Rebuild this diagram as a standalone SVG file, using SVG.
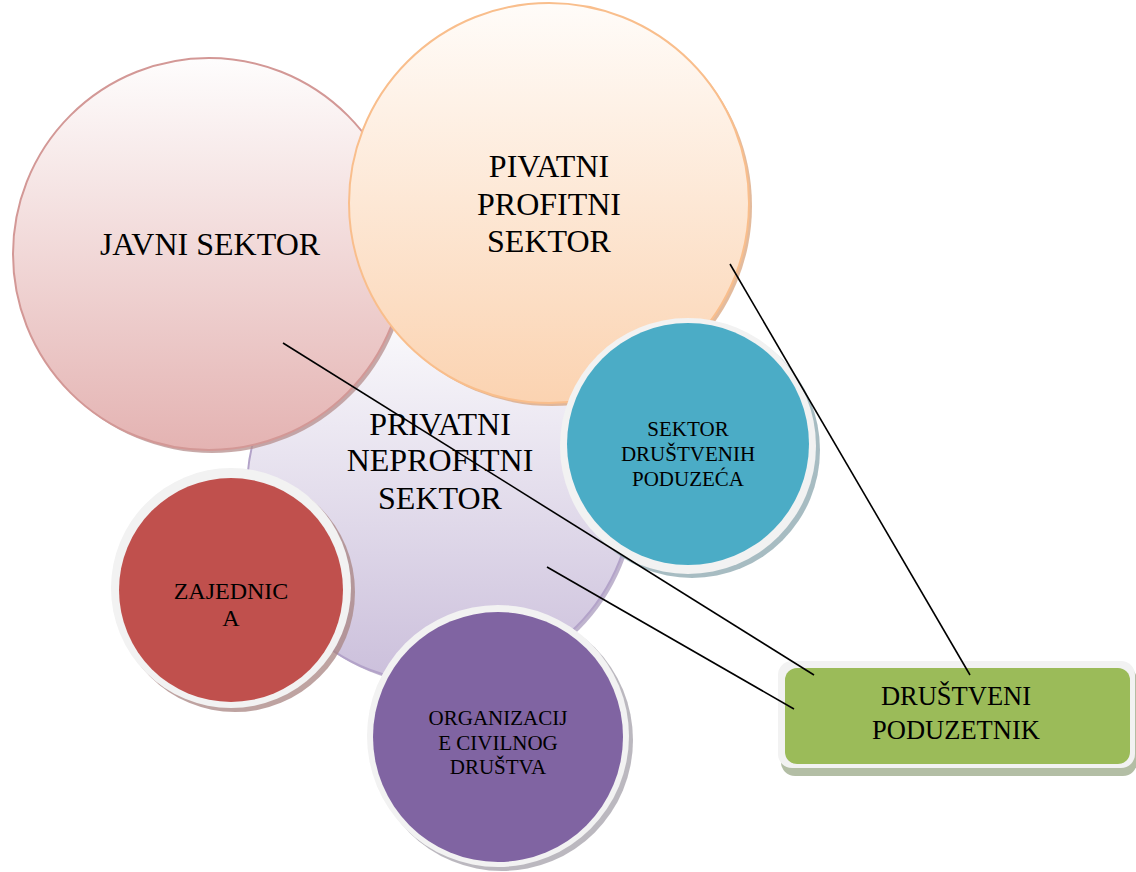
<svg xmlns="http://www.w3.org/2000/svg" width="1136" height="872" viewBox="0 0 1136 872">
  <defs>
    <linearGradient id="gPink" x1="0" y1="0" x2="0" y2="1">
      <stop offset="0" stop-color="#fefdfd"/>
      <stop offset="1" stop-color="#e4b3b2"/>
    </linearGradient>
    <linearGradient id="gOrange" x1="0" y1="0" x2="0" y2="1">
      <stop offset="0" stop-color="#fffcf9"/>
      <stop offset="1" stop-color="#fbd3b1"/>
    </linearGradient>
    <linearGradient id="gLilac" x1="0" y1="0" x2="0" y2="1">
      <stop offset="0" stop-color="#fdfdfe"/>
      <stop offset="1" stop-color="#cbbfdb"/>
    </linearGradient>
  </defs>
  <style>
    text { font-family: "Liberation Serif", "Times New Roman", serif; fill: #000; text-anchor: middle; }
    .big { font-size: 32px; }
    .mid { font-size: 21px; }
    .zaj { font-size: 24px; }
    .box { font-size: 26.5px; }
    .ring { fill: #f2f2f2; }
    .shadow { opacity: 0.75; }
    .conn { stroke: #000; stroke-width: 1.6; fill: none; }
  </style>

  <g id="privatni-neprofitni">
    <circle cx="443" cy="493" r="193" fill="#a99bbd" class="shadow"/>
    <circle cx="440" cy="490" r="193" fill="url(#gLilac)" stroke="#b3a3c9" stroke-width="2"/>
    <text class="big" x="440" y="435">PRIVATNI</text>
    <text class="big" x="440" y="471">NEPROFITNI</text>
    <text class="big" x="440" y="509">SEKTOR</text>
  </g>

  <g id="javni-sektor">
    <circle cx="212" cy="257" r="196" fill="#b58d8c" class="shadow"/>
    <circle cx="209" cy="254" r="196" fill="url(#gPink)" stroke="#d39896" stroke-width="2"/>
    <text class="big" x="210" y="255">JAVNI SEKTOR</text>
  </g>

  <g id="pivatni-profitni">
    <circle cx="552" cy="206" r="200" fill="#d9a47c" class="shadow"/>
    <circle cx="549" cy="203" r="200" fill="url(#gOrange)" stroke="#f9be8c" stroke-width="2"/>
    <text class="big" x="549" y="177">PIVATNI</text>
    <text class="big" x="549" y="215">PROFITNI</text>
    <text class="big" x="549" y="252">SEKTOR</text>
  </g>

  <g id="sektor-drustvenih-poduzeca">
    <circle cx="692" cy="450" r="128" fill="#8aa5ad" class="shadow"/>
    <circle cx="688" cy="446" r="128" class="ring"/>
    <circle cx="688" cy="444" r="121" fill="#4bacc6"/>
    <text class="mid" x="688" y="436">SEKTOR</text>
    <text class="mid" x="688" y="461">DRUŠTVENIH</text>
    <text class="mid" x="688" y="486">PODUZEĆA</text>
  </g>

  <g id="zajednica">
    <circle cx="235" cy="592" r="120" fill="#a88482" class="shadow"/>
    <circle cx="231" cy="588" r="120" class="ring"/>
    <circle cx="231" cy="590" r="112" fill="#c0504d"/>
    <text class="zaj" x="231" y="599">ZAJEDNIC</text>
    <text class="zaj" x="231" y="626">A</text>
  </g>

  <g id="organizacije-civilnog-drustva">
    <circle cx="502" cy="740" r="131" fill="#a4a0aa" class="shadow"/>
    <circle cx="498" cy="736" r="131" class="ring"/>
    <circle cx="498" cy="737" r="125" fill="#8064a2"/>
    <text class="mid" x="498" y="725">ORGANIZACIJ</text>
    <text class="mid" x="498" y="750">E CIVILNOG</text>
    <text class="mid" x="498" y="774">DRUŠTVA</text>
  </g>

  <g id="drustveni-poduzetnik">
    <rect x="781" y="666" width="356" height="110" rx="14" fill="#9aa887" class="shadow"/>
    <rect x="778" y="661" width="357" height="107" rx="14" class="ring"/>
    <rect x="785" y="668" width="345" height="96" rx="12" fill="#9bbb59"/>
    <text class="box" x="956" y="705">DRUŠTVENI</text>
    <text class="box" x="956" y="739">PODUZETNIK</text>
  </g>

  <g id="connectors">
    <line class="conn" x1="283" y1="343" x2="814" y2="675"/>
    <line class="conn" x1="547" y1="567" x2="794" y2="709"/>
    <line class="conn" x1="730" y1="264" x2="970" y2="675"/>
  </g>
</svg>
